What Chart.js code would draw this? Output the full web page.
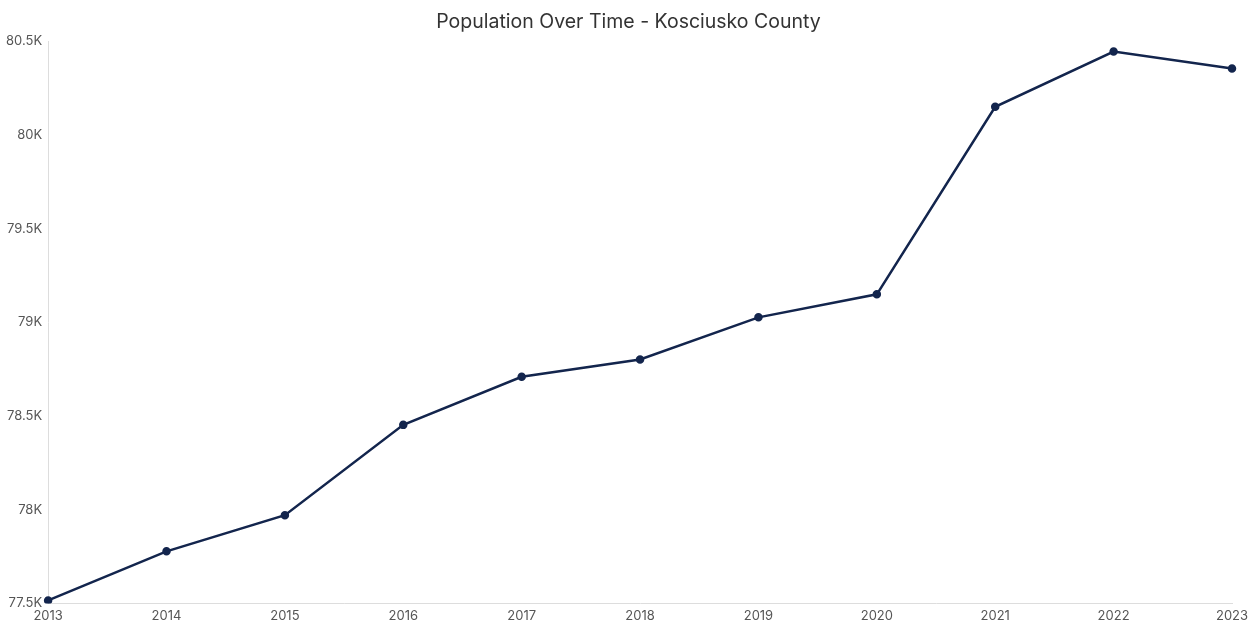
<!DOCTYPE html>
<html>
<head>
<meta charset="utf-8">
<script src="https://cdn.jsdelivr.net/npm/chart.js@4"></script>
<style>
  html, body { margin: 0; padding: 0; background: #fff; }
  #wrap { width: 1257px; height: 623px; }
</style>
</head>
<body>
<div id="wrap"><canvas id="popChart"></canvas></div>
<script>
const years = ['2013', '2014', '2015', '2016', '2017', '2018', '2019', '2020', '2021', '2022', '2023'];
const population = [77516, 77778, 77971, 78453, 78710, 78802, 79027, 79150, 80151, 80446, 80355];
const yTicks = [77500, 78000, 78500, 79000, 79500, 80000, 80500];

let ctx = document.getElementById('popChart').getContext('2d');

new Chart(ctx, {
    type: 'line',
    data: {
        labels: years,
        datasets: [{
            label: 'Population',
            data: population,
            borderColor: '#13254d',
            backgroundColor: '#13254d',
            borderWidth: 2.5,
            pointRadius: 3,
            pointHoverRadius: 4,
            tension: 0,
            fill: false
        }]
    },
    options: {
        responsive: true,
        maintainAspectRatio: false,
        animation: false,
        layout: { padding: { left: 0, right: 0, top: 0, bottom: -6 } },
        plugins: {
            legend: { display: false },
            title: {
                display: true,
                text: 'Population Over Time - Kosciusko County',
                color: '#333',
                font: { family: 'Inter', size: 19.5, weight: 'normal' },
                padding: { top: 10, bottom: 8 }
            },
            tooltip: { enabled: false }
        },
        scales: {
            x: {
                offset: false,
                grid: { display: false, drawTicks: false },
                border: { display: true, color: '#dddddd', width: 1 },
                ticks: {
                    color: '#555',
                    font: { family: 'Inter', size: 13 },
                    padding: 5,
                    maxRotation: 0,
                    autoSkip: false
                }
            },
            y: {
                min: yTicks[0],
                max: yTicks[yTicks.length - 1],
                afterBuildTicks: axis => { axis.ticks = yTicks.map(v => ({ value: v })); },
                grid: { display: false, drawTicks: false },
                border: { display: true, color: '#dddddd', width: 1 },
                ticks: {
                    color: '#555',
                    font: { family: 'Inter', size: 13 },
                    padding: 6,
                    callback: v => (v / 1000) + 'K'
                }
            },
            // empty right-hand axis, only reserves room so the title stays centred on the page
            spacer: {
                type: 'linear',
                position: 'right',
                display: true,
                grid: { display: false, drawTicks: false },
                border: { display: false },
                ticks: { display: false },
                afterFit: s => { s.width = 25; }
            }
        }
    }
});
</script>
</body>
</html>
